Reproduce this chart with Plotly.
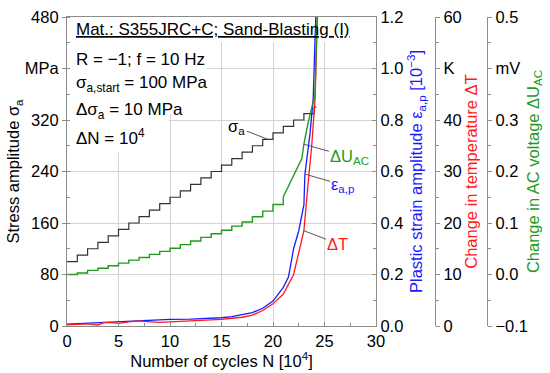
import plotly.graph_objects as go

# ---------------- data ----------------
# stress amplitude staircase (MPa) vs N [1e4]
sigma_N = [0, 1, 2, 3, 4, 5, 6, 7, 8, 9, 10, 11, 12, 13, 14, 15, 16, 17, 18, 19, 20, 21, 22, 23, 24, 24.2]
sigma_a = [100, 110, 120, 130, 140, 150, 160, 170, 180, 190, 200, 210, 220, 230, 240, 250, 260, 270, 280, 290, 300, 310, 320, 330, 340, 340]

# change in AC voltage (mV): stepped part and final rise
uac_step_N = [0, 1, 2, 3, 4, 5, 6, 7, 8, 9, 10, 11, 12, 13, 14, 15, 16, 17, 18, 19, 20, 21]
uac_step_v = [0.000, 0.003, 0.008, 0.012, 0.017, 0.022, 0.028, 0.033, 0.039, 0.045, 0.051,
              0.058, 0.065, 0.072, 0.079, 0.086, 0.094, 0.102, 0.112, 0.123, 0.136, 0.151]
uac_end_N = [21, 21.4, 22.0, 22.45, 22.8, 23.0, 23.4, 23.9, 24.07, 24.23, 24.32]
uac_end_v = [0.151, 0.167, 0.190, 0.209, 0.225, 0.253, 0.294, 0.335, 0.345, 0.470, 0.520]

# plastic strain amplitude (1e-3)
eps_N = [0, 2, 4, 5, 6, 8, 10, 12, 14, 15, 16, 17, 18, 19, 20, 21, 21.5, 22, 22.5, 23, 23.1, 23.6, 23.9, 24.07, 24.2]
eps_v = [0.007, 0.011, 0.015, 0.018, 0.019, 0.022, 0.026, 0.027, 0.030, 0.032, 0.036, 0.043,
         0.052, 0.069, 0.097, 0.150, 0.190, 0.300, 0.370, 0.470, 0.590, 0.750, 0.880, 1.100, 1.250]

# change in temperature (K)
dT_N = [0, 1, 2, 3, 3.5, 4, 5, 6, 7, 7.5, 8, 9, 10, 11, 12, 13, 14, 15, 16, 17, 18, 19, 20, 21, 22, 23, 23.4, 23.75, 24.08, 24.24, 24.32]
dT_v = [0.2, 0.3, 0.4, 0.2, 0.6, 0.7, 0.5, 0.8, 1.0, 0.9, 0.8, 0.7, 0.8, 0.9, 0.9, 1.0, 1.1, 1.3,
        1.5, 1.7, 2.1, 3.0, 4.3, 6.2, 10.0, 18.5, 27.5, 34.8, 43.9, 53.6, 60.5]

x_ticks = [0, 5, 10, 15, 20, 25, 30]
y1_ticks = [0, 80, 160, 240, 320, 400, 480]
y1_text = ["0", "80", "160", "240", "320", "MPa", "480"]
y2_ticks = [0.0, 0.2, 0.4, 0.6, 0.8, 1.0, 1.2]
y2_text = ["0.0", "0.2", "0.4", "0.6", "0.8", "1.0", "1.2"]
y3_ticks = [0, 10, 20, 30, 40, 50, 60]
y3_text = ["0", "10", "20", "30", "40", "K", "60"]
y4_ticks = [-0.1, 0.0, 0.1, 0.2, 0.3, 0.4, 0.5]
y4_text = ["\u22120.1", "0.0", "0.1", "0.2", "0.3", "mV", "0.5"]

BLACK = "#333333"
BLUE = "#1a1aff"
RED = "#ff1a1a"
GREEN = "#1f9a1f"
AXC = "#8c8c8c"
GRID = "#d4d4d4"
FONT = "Liberation Sans, Arial, sans-serif"
FS = 16.5

fig = go.Figure()
fig.add_trace(go.Scatter(x=sigma_N, y=sigma_a, mode="lines", line=dict(color=BLACK, width=1.2, shape="hv"),
                         yaxis="y", showlegend=False))
fig.add_trace(go.Scatter(x=uac_step_N, y=uac_step_v, mode="lines", line=dict(color=GREEN, width=1.4, shape="hv"),
                         yaxis="y4", showlegend=False))
fig.add_trace(go.Scatter(x=uac_end_N, y=uac_end_v, mode="lines", line=dict(color=GREEN, width=1.4),
                         yaxis="y4", showlegend=False))
fig.add_trace(go.Scatter(x=dT_N, y=dT_v, mode="lines", line=dict(color=RED, width=1.3),
                         yaxis="y3", showlegend=False))
fig.add_trace(go.Scatter(x=eps_N, y=eps_v, mode="lines", line=dict(color=BLUE, width=1.3),
                         yaxis="y2", showlegend=False))

# full-window figure (body margin removed in the page script below)
W, H = 550, 373
ML, MT = 67, 17
MB = H - 326
MR = 10
PW = W - ML - MR
xdom_end = (376 - 67) / PW

tickfont = dict(family=FONT, size=FS, color="black")

fig.update_layout(
    width=W, height=H,
    margin=dict(l=ML, r=MR, t=MT, b=MB, pad=0, autoexpand=False),
    paper_bgcolor="white", plot_bgcolor="white",
    font=dict(family=FONT, size=FS, color="black"),
    xaxis=dict(domain=[0, xdom_end], range=[0, 30], tickvals=x_ticks, ticktext=[str(v) for v in x_ticks],
               automargin=False,
               showgrid=True, gridcolor=GRID, gridwidth=1, zeroline=False,
               showline=True, linecolor=AXC, linewidth=1.2, mirror=True,
               ticks="inside", ticklen=4, tickcolor=AXC,
               minor=dict(dtick=2.5, ticks="inside", ticklen=3, tickcolor=AXC, showgrid=False),
               tickfont=tickfont,
               title=dict(text="Number of cycles N [10<sup>4</sup>]", font=dict(family=FONT, size=FS), standoff=0)),
    yaxis=dict(range=[0, 480], tickvals=y1_ticks, ticktext=y1_text, automargin=False,
               showgrid=True, gridcolor=GRID, gridwidth=1, zeroline=False,
               showline=True, linecolor=AXC, linewidth=1.2,
               ticks="outside", ticklen=4, tickcolor=AXC,
               minor=dict(dtick=40, ticks="inside", ticklen=3, tickcolor=AXC, showgrid=False),
               tickfont=tickfont,
               title=dict(text="Stress amplitude \u03c3<sub>a</sub>", font=dict(family=FONT, size=FS), standoff=0)),
    yaxis2=dict(range=[0, 1.2], tickvals=y2_ticks, ticktext=y2_text, overlaying="y", side="right",
                anchor="x", showgrid=False, zeroline=False, automargin=False,
                showline=True, linecolor=AXC, linewidth=1.2,
                ticks="inside", ticklen=4, tickcolor=AXC,
                minor=dict(dtick=0.1, ticks="inside", ticklen=3, tickcolor=AXC, showgrid=False),
                tickfont=tickfont,
                title=dict(text="Plastic strain amplitude \u03b5<sub>a,p</sub> [10<sup>\u22123</sup>]",
                           font=dict(family=FONT, size=FS, color=BLUE), standoff=8)),
    yaxis3=dict(range=[0, 60], tickvals=y3_ticks, ticktext=y3_text, overlaying="y", side="right",
                anchor="free", position=(435 - 67) / PW, showgrid=False, zeroline=False, automargin=False,
                showline=True, linecolor=AXC, linewidth=1.2,
                ticks="outside", ticklen=4, tickcolor=AXC,
                minor=dict(dtick=5, ticks="outside", ticklen=3, tickcolor=AXC, showgrid=False),
                tickfont=tickfont,
                title=dict(text="Change in temperature \u0394T",
                           font=dict(family=FONT, size=FS, color=RED), standoff=2)),
    yaxis4=dict(range=[-0.1, 0.5], tickvals=y4_ticks, ticktext=y4_text, overlaying="y", side="right",
                anchor="free", position=(487 - 67) / PW, showgrid=False, zeroline=False, automargin=False,
                showline=True, linecolor=AXC, linewidth=1.2,
                ticks="outside", ticklen=4, tickcolor=AXC,
                minor=dict(dtick=0.05, ticks="outside", ticklen=3, tickcolor=AXC, showgrid=False),
                tickfont=tickfont,
                title=dict(text="Change in AC voltage \u0394U<sub>AC</sub>",
                           font=dict(family=FONT, size=FS, color=GREEN), standoff=0)),
)

# white background behind the text block (covers gridlines, below traces)
fig.add_shape(type="rect", xref="x", yref="y", x0=0, x1=27.0, y0=441, y1=480,
              fillcolor="white", line=dict(width=0), layer="between")
fig.add_shape(type="rect", xref="x", yref="y", x0=0, x1=13.6, y0=330, y1=441,
              fillcolor="white", line=dict(width=0), layer="between")
fig.add_shape(type="rect", xref="x", yref="y", x0=0, x1=9.9, y0=270, y1=330,
              fillcolor="white", line=dict(width=0), layer="between")

txt = dict(family=FONT, size=17, color="black")
block = [
    ("<u>Mat.: S355JRC+C; Sand-Blasting (I)</u>", 461),
    ("R = \u22121; f = 10 Hz", 414),
    ("\u03c3<sub>a,start</sub> = 100 MPa", 376),
    ("\u0394\u03c3<sub>a</sub> = 10 MPa", 334),
    ("\u0394N = 10<sup>4</sup>", 293),
]
for t, yv in block:
    fig.add_annotation(x=0.7, y=yv, xref="x", yref="y", text=t, showarrow=False,
                       xanchor="left", yanchor="middle", font=txt)

# labels with leader lines
labels = [
    ("\u03c3<sub>a</sub>", 19.5, 290, "y", -31, -12, "black"),
    ("\u0394U<sub>AC</sub>", 23.0, 0.253, "y4", 46, 13, GREEN),
    ("\u03b5<sub>a,p</sub>", 23.1, 0.59, "y2", 38, 11, BLUE),
    ("\u0394T", 23.0, 18.5, "y3", 34, 13, RED),
]
for t, xv, yv, yr, ax, ay, col in labels:
    fig.add_annotation(x=xv, y=yv, xref="x", yref=yr, text=t, showarrow=True,
                       arrowhead=0, arrowwidth=1, arrowcolor="#555555", ax=ax, ay=ay,
                       font=dict(family=FONT, size=FS, color=col))

fig.write_html("out.html", config={"displayModeBar": False},
               post_script="document.body.style.margin='0px';document.body.style.overflow='hidden';")
